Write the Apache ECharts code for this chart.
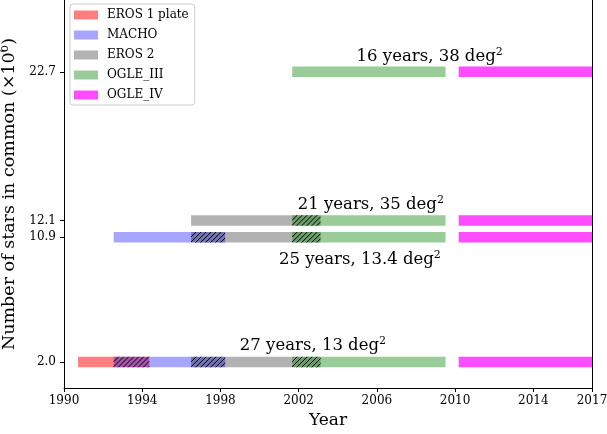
<!DOCTYPE html>
<html><head><meta charset="utf-8">
<script src="https://cdn.jsdelivr.net/npm/echarts@6/dist/echarts.min.js"></script>
<style>html,body{margin:0;padding:0;background:#fff}#c{width:607px;height:434px}</style>
</head><body><div id="c"></div>
<script>
// ---- data ----
const surveys = ['EROS 1 plate', 'MACHO', 'EROS 2', 'OGLE_III', 'OGLE_IV'];
const surveyColors = ['rgba(255,0,0,0.5)', 'rgba(0,0,255,0.35)', 'rgba(0,0,0,0.3)', 'rgba(0,128,0,0.4)', 'rgba(255,0,255,0.7)'];
const surveyStart = [1990.72, 1992.54, 1996.5, 2001.67, 2010.18];
const surveyEnd = [1994.36, 1998.24, 2003.12, 2009.51, 2017.0];
const rowValues = [2.0, 10.9, 12.1, 22.7];
const rowSurveys = [[0, 1, 2, 3, 4], [1, 2, 3, 4], [2, 3, 4], [3, 4]];
const annotationText = ['27 years, 13 deg', '25 years, 13.4 deg', '21 years, 35 deg', '16 years, 38 deg'];
const annotationYear = [2002.73, 2005.13, 2005.69, 2008.7];
const annotationValue = [3.14, 9.27, 13.2, 23.75];
const xTicks = [1990, 1994, 1998, 2002, 2006, 2010, 2014, 2017];
const barThickness = 0.75;
const FONT = 'DejaVu Serif';

// ---- build series data ----
const surveyData = surveys.map(() => []);
const overlapData = [];
rowValues.forEach((y, r) => {
  const list = rowSurveys[r];
  list.forEach(i => surveyData[i].push([surveyStart[i], surveyEnd[i], y]));
  for (let k = 0; k < list.length - 1; k++) {
    const a = list[k], b = list[k + 1];
    const lo = Math.max(surveyStart[a], surveyStart[b]);
    const hi = Math.min(surveyEnd[a], surveyEnd[b]);
    if (hi > lo) overlapData.push([lo, hi, y]);
  }
});

function barItem(params, api) {
  const s = api.coord([api.value(0), api.value(2)]);
  const e = api.coord([api.value(1), api.value(2)]);
  const h = api.size([0, barThickness])[1];
  return { type: 'rect', shape: { x: s[0], y: s[1] - h / 2, width: e[0] - s[0], height: h },
    style: { fill: api.visual('color') } };
}
function hatchItem(params, api) {
  const s = api.coord([api.value(0), api.value(2)]);
  const e = api.coord([api.value(1), api.value(2)]);
  const h = api.size([0, barThickness])[1];
  const bot = s[1] + h / 2;
  const x0 = s[0], x1 = e[0];
  const children = [];
  const sp = 5;
  for (let c = x0 - h; c < x1; c += sp) {
    const xa = Math.max(c, x0), xb = Math.min(c + h, x1);
    if (xb <= xa) continue;
    children.push({ type: 'line', shape: { x1: xa, y1: bot - (xa - c), x2: xb, y2: bot - (xb - c) },
      style: { stroke: '#000', lineWidth: 1 } });
  }
  return { type: 'group', children };
}
function textItem(params, api) {
  const p = api.coord([api.value(0), api.value(1)]);
  return { type: 'text', x: p[0], y: p[1],
    style: { text: '{a|' + annotationText[params.dataIndex] + '}{s|2}', align: 'center', verticalAlign: 'middle',
      rich: { a: { fontFamily: FONT, fontSize: 16.5, color: '#000', lineHeight: 20 },
              s: { fontFamily: FONT, fontSize: 11, color: '#000', verticalAlign: 'top', lineHeight: 20 } } } };
}

const series = surveys.map((name, i) => ({
  type: 'custom', name, renderItem: barItem, itemStyle: { color: surveyColors[i] },
  encode: { x: [0, 1], y: 2 }, data: surveyData[i], silent: true, animation: false
}));
series.push({ type: 'custom', renderItem: hatchItem, encode: { x: [0, 1], y: 2 }, data: overlapData, silent: true, animation: false, z: 3 });
series.push({ type: 'custom', renderItem: textItem, encode: { x: 0, y: 1 },
  data: annotationYear.map((x, i) => [x, annotationValue[i]]), silent: true, animation: false, z: 4 });

const chart = echarts.init(document.getElementById('c'), null, { renderer: 'canvas' });
chart.setOption({
  animation: false,
  grid: { left: 64, right: 15, top: 0, bottom: 46, containLabel: false, outerBoundsMode: 'none' },
  legend: {
    data: surveys, orient: 'vertical', left: 70, top: 4, padding: [5, 6, 4, 4],
    itemWidth: 24, itemHeight: 9, itemGap: 8, icon: 'rect',
    backgroundColor: '#fff', borderColor: '#ccc', borderWidth: 1, borderRadius: 3,
    textStyle: { fontFamily: FONT, fontSize: 12, color: '#000', padding: [0, 0, 0, 4] }
  },
  xAxis: {
    type: 'value', min: 1990, max: 2017,
    name: 'Year', nameLocation: 'middle', nameGap: 22,
    nameTextStyle: { fontFamily: FONT, fontSize: 17, color: '#000' },
    axisLine: { show: true, lineStyle: { color: '#000', width: 1 } },
    axisTick: { show: true, length: 4, lineStyle: { color: '#000' }, customValues: xTicks },
    axisLabel: { customValues: xTicks, formatter: v => String(Math.round(v)), fontFamily: FONT, fontSize: 12, color: '#000', margin: 7 },
    splitLine: { show: false }
  },
  yAxis: [{
    type: 'value', min: 0.15, max: 27.82, position: 'left',
    name: '{a|Number of stars in common (×10}{s|6}{a|)}', nameLocation: 'middle', nameGap: 40,
    nameTextStyle: { rich: { a: { fontFamily: FONT, fontSize: 17.5, color: '#000', lineHeight: 22 },
                             s: { fontFamily: FONT, fontSize: 12, color: '#000', verticalAlign: 'top', lineHeight: 22 } } },
    axisLine: { show: true, lineStyle: { color: '#000', width: 1 } },
    axisTick: { show: true, length: 4, lineStyle: { color: '#000' }, customValues: rowValues },
    axisLabel: { customValues: rowValues, formatter: v => v.toFixed(1), fontFamily: FONT, fontSize: 12, color: '#000', margin: 8 },
    splitLine: { show: false }
  }, {
    type: 'value', min: 0.15, max: 27.82, position: 'right',
    axisLine: { show: true, lineStyle: { color: '#000', width: 1 } },
    axisTick: { show: false }, axisLabel: { show: false }, splitLine: { show: false }
  }],
  series
});
</script>
</body></html>
